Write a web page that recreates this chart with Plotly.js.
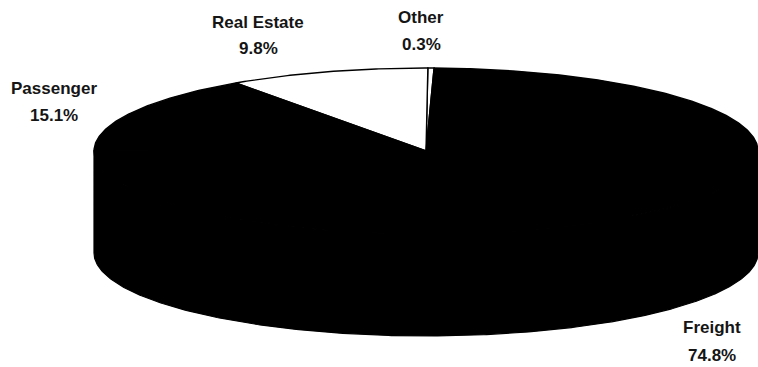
<!DOCTYPE html>
<html>
<head>
<meta charset="utf-8">
<script src="https://cdn.plot.ly/plotly-3.0.1.min.js"></script>
<style>
  html, body { margin: 0; padding: 0; background: #ffffff; }
  #chart { width: 758px; height: 367px; }
</style>
</head>
<body>
<div id="chart"></div>
<script>
// ---- data ----
const labels = ["Other", "Real Estate", "Passenger", "Freight"];
const values = [0.3, 9.8, 15.1, 74.8];
const sliceColors = ["#ffffff", "#ffffff", "#000000", "#000000"];

// ---- geometry of the tilted (3D-look) pie, in plot units ----
const CX = 426, CY = 151;      // centre of top face
const RX = 332, RY = 83;       // ellipse radii of top face
const DEPTH = 102;             // thickness of the pie
const START = 88.6;            // start angle (deg), counter-clockwise

const total = values.reduce((a, b) => a + b, 0);
const rad = d => d * Math.PI / 180;
const pt = (deg, dy) => [CX + RX * Math.cos(rad(deg)), CY + (dy || 0) - RY * Math.sin(rad(deg))];

const traces = [];
let a0 = START;
const slices = values.map((v, i) => {
  const a1 = a0 + 360 * v / total;
  const s = {i, a0, a1};
  a0 = a1;
  return s;
});

// side walls (front half only: angles 180..360 mod 360)
slices.forEach(s => {
  for (let k = -1; k <= 1; k++) {
    const lo = Math.max(s.a0, 180 + 360 * k), hi = Math.min(s.a1, 360 + 360 * k);
    if (hi <= lo) continue;
    const xs = [], ys = [];
    for (let d = lo; d <= hi + 1e-9; d += 0.5) { const p = pt(Math.min(d, hi)); xs.push(p[0]); ys.push(p[1]); }
    for (let d = hi; d >= lo - 1e-9; d -= 0.5) { const p = pt(Math.max(d, lo), DEPTH); xs.push(p[0]); ys.push(p[1]); }
    xs.push(xs[0]); ys.push(ys[0]);
    traces.push({type: "scatter", mode: "lines", x: xs, y: ys, fill: "toself",
      fillcolor: sliceColors[s.i], line: {color: "#000000", width: 1.2}, hoverinfo: "skip"});
  }
});

// top faces
slices.forEach(s => {
  const xs = [CX], ys = [CY];
  const step = 0.5;
  for (let d = s.a0; d < s.a1; d += step) { const p = pt(d); xs.push(p[0]); ys.push(p[1]); }
  const pe = pt(s.a1); xs.push(pe[0]); ys.push(pe[1]);
  xs.push(CX); ys.push(CY);
  traces.push({type: "scatter", mode: "lines", x: xs, y: ys, fill: "toself",
    fillcolor: sliceColors[s.i], line: {color: "#000000", width: 1.4}, hoverinfo: "skip"});
});

// label placement (positions only)
const labelPos = {
  "Other":       [421, 17, 44],
  "Real Estate": [258, 22, 48],
  "Passenger":   [54, 88, 115],
  "Freight":     [712, 327, 355]
};
const font = {family: "Liberation Sans, Arial, sans-serif", size: 17, color: "#151515", weight: "bold"};
const annotations = [];
labels.forEach((lab, i) => {
  const p = labelPos[lab];
  annotations.push({x: p[0], y: p[1], xref: "x", yref: "y", text: lab, showarrow: false,
    xanchor: "center", yanchor: "middle", font: font});
  annotations.push({x: p[0], y: p[2], xref: "x", yref: "y", text: (values[i] / total * 100).toFixed(1) + "%",
    showarrow: false, xanchor: "center", yanchor: "middle", font: font});
});

const layout = {
  width: 758, height: 367,
  margin: {l: 0, r: 0, t: 0, b: 0, pad: 0},
  paper_bgcolor: "#ffffff", plot_bgcolor: "#ffffff",
  showlegend: false, hovermode: false,
  xaxis: {range: [0, 758], visible: false, fixedrange: true},
  yaxis: {range: [367, 0], visible: false, fixedrange: true},
  annotations: annotations
};

Plotly.newPlot("chart", traces, layout, {staticPlot: true, displayModeBar: false});
</script>
</body>
</html>
